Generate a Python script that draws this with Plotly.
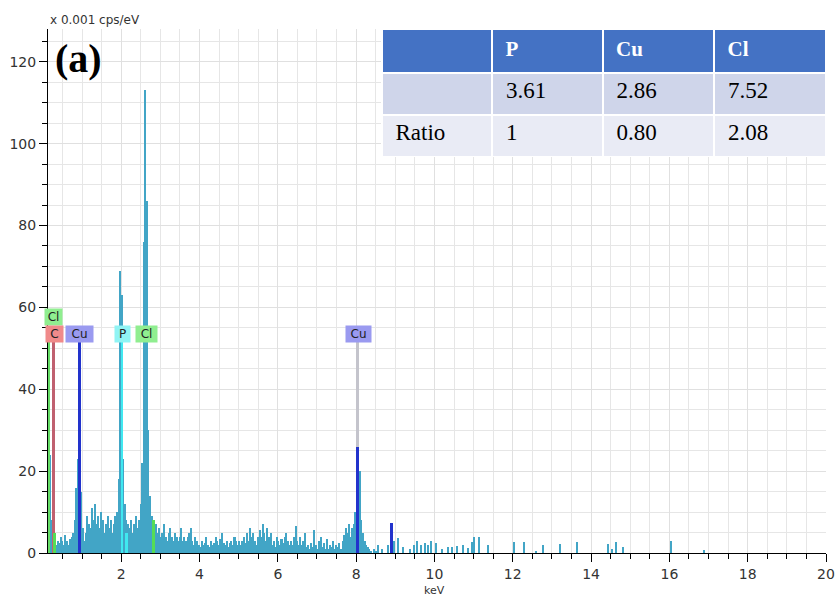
import plotly.graph_objects as go

# ---------------- data ----------------
# main spectrum: channel counts (x 0.001 cps/eV), channels start at 0.10 keV, 0.04 keV wide
spec_start = 0.10
spec_step = 0.04
spec_counts = [
    6, 14, 24, 8, 5, 3,
    2, 3, 2.5, 4, 3, 2, 4.5, 3, 2, 3.5, 4, 5,
    8, 16, 23, 42, 15, 6,
    3, 5, 9, 7, 6, 11, 8, 12, 7, 9, 6, 10, 8, 5, 7, 9, 6, 8, 5, 7,
    9, 10, 18, 69, 63, 23, 12, 8,
    7, 6, 8, 5, 7, 9, 6, 8,
    12, 22, 76, 113, 86, 30, 14, 9,
    8, 6, 7, 5, 6, 4, 5, 7, 4, 3, 5, 6, 4, 3, 5, 4, 3, 4, 6, 3, 4,
    3, 4, 5, 6, 3, 2, 4, 3, 2, 1.5, 3, 2, 2.5, 4, 2, 1.5, 3, 2, 2.5, 4, 3, 2, 3.5, 5, 2.5, 2, 3, 1.5, 2.5, 3, 2, 4, 3, 2,
    3, 2, 3, 4, 2.5, 5, 3, 6, 4, 5, 3, 2, 4, 5.5, 4, 7, 5, 3, 6, 4, 5, 2, 3, 1.5, 4, 3, 2, 3.5, 2.5, 4, 5, 3,
    2, 3, 2, 4, 6.5, 3, 2, 4, 2, 3, 5, 1.5, 2, 1, 2.5, 1.5, 5.5, 2, 1, 3, 4, 1.5, 2.5, 1, 3.5, 1, 2, 1.5, 3, 1, 2, 1.5, 2.5, 1, 3, 4.5,
    6, 5, 7, 4, 6, 7, 10, 11, 9, 20, 8, 5, 3, 2, 1.5, 1, 0.5, 0, 1, 0.5,
]
spec_keV = [round(spec_start + spec_step * i, 3) for i in range(len(spec_counts))]

# thin top of the Cl K peak
cl_top_keV = [2.60]
cl_top_counts = [107]

# sparse high-energy tail
tail_keV = [8.56, 8.66, 8.82, 8.96, 9.07, 9.20, 9.38, 9.47, 9.56, 9.66, 9.77, 9.85, 9.92, 10.05,
            10.20, 10.36, 10.45, 10.58, 10.73, 10.86, 10.97, 11.02, 11.14, 11.37,
            12.04, 12.29, 12.59, 12.78, 13.22, 13.64, 14.43, 14.54, 14.63, 14.81, 16.04, 16.90]
tail_counts = [2, 1, 2, 3, 3.6, 1.5, 1, 2, 3, 2, 2.5, 2, 3, 2.5,
               1, 1.5, 1.5, 1.6, 2, 1.3, 2.8, 3.8, 3.8, 2,
               2.8, 2.7, 0.5, 2.0, 2.3, 2.8, 2.3, 1.0, 2.8, 1.4, 3.0, 0.8]

# element marker lines
marker_elem = ["Cl", "C", "Cu", "P", "Cl", "Cu"]
marker_keV = [0.16, 0.277, 0.93, 2.013, 2.622, 8.04]
marker_top = [55, 51.6, 51.6, 51.6, 51.6, 51.6]
label_keV = [0.26, 0.30, 0.93, 2.03, 2.65, 8.06]
label_level = [57.6, 53.5, 53.5, 53.5, 53.5, 53.5]

# element-coloured peak channels
peak_elem = ["Cu", "Cu", "Cl", "P", "Cl"]
peak_keV = [8.04, 8.90, 0.30, 2.14, 2.82]
peak_counts = [26, 7.4, 5, 5, 8]

# table
table_header = ["", "P", "Cu", "Cl"]
table_row1 = ["", "3.61", "2.86", "7.52"]
table_row2 = ["Ratio", "1", "0.80", "2.08"]

# ---------------- styles ----------------
SPEC = "rgb(66,165,198)"
line_col = {"Cl": "#66dd66", "C": "#c06070", "Cu": "#2233cc", "P": "#40e8f0"}
peak_col = {"Cl": "#55dd55", "Cu": "#2233cc", "P": "#40e8f0"}
box_col = {"Cl": "#90ee90", "C": "#f08a8a", "Cu": "#9a9af0", "P": "#90f4f4"}
box_w = [17, 17, 27, 15, 21, 25]
FONT = "DejaVu Sans"

fig = go.Figure()

def mline(i, col, w):
    fig.add_trace(go.Bar(x=[marker_keV[i]], y=[marker_top[i]], width=w,
                         marker=dict(color=col, line=dict(width=0)), hoverinfo="skip"))

# Cl K marker sits under the spectrum
mline(4, line_col["Cl"], 0.06)

fig.add_trace(go.Bar(x=spec_keV, y=spec_counts, width=spec_step,
                     marker=dict(color=SPEC, line=dict(width=0))))
fig.add_trace(go.Bar(x=cl_top_keV, y=cl_top_counts, width=0.03,
                     marker=dict(color=SPEC, line=dict(width=0))))
fig.add_trace(go.Bar(x=tail_keV, y=tail_counts, width=0.035,
                     marker=dict(color=SPEC, line=dict(width=0))))

mline(0, line_col["Cl"], 0.06)
mline(1, line_col["C"], 0.05)
mline(2, line_col["Cu"], 0.07)
mline(3, line_col["P"], 0.06)
mline(5, "#c4c4cc", 0.09)

fig.add_trace(go.Bar(x=peak_keV, y=peak_counts, width=0.07,
                     marker=dict(color=[peak_col[e] for e in peak_elem], line=dict(width=0))))

for i, e in enumerate(marker_elem):
    fig.add_annotation(x=label_keV[i], y=label_level[i], xref="x", yref="y",
                       text=e, showarrow=False, bgcolor=box_col[e],
                       width=box_w[i], height=16, borderpad=0,
                       font=dict(family=FONT, size=12, color="#222"))

# table
fig.add_trace(go.Table(
    domain=dict(x=[0.429, 1.0], y=[0.754, 1.0]),
    columnwidth=[109, 109, 110, 110],
    header=dict(values=["<b> %s</b>" % h for h in table_header],
                fill_color="#4472c4", line=dict(color="white", width=2),
                font=dict(family="Liberation Serif", size=21, color="white"),
                align="left", height=44),
    cells=dict(values=[[" " + table_row1[i], " " + table_row2[i]] for i in range(4)],
               fill_color=[["#cfd5ea", "#e9ebf5"]] * 4,
               line=dict(color="white", width=2),
               font=dict(family="Liberation Serif", size=23, color="black"),
               align="left", height=42),
))

fig.add_annotation(xref="paper", yref="paper", x=0, y=1, xanchor="left", yanchor="bottom",
                   text="x 0.001 cps/eV", showarrow=False,
                   font=dict(family=FONT, size=12, color="#333"))
fig.add_annotation(xref="paper", yref="paper", x=0.006, y=0.943, xanchor="left", yanchor="middle",
                   text="<b>(a)</b>", showarrow=False,
                   font=dict(family="Liberation Serif", size=40, color="black"))
fig.add_annotation(xref="paper", yref="paper", x=0.497, y=-0.072, xanchor="center", yanchor="middle",
                   text="keV", showarrow=False,
                   font=dict(family=FONT, size=11, color="#333"))

axis_common = dict(ticks="outside", ticklen=8, tickcolor="black", showline=True,
                   linecolor="black", linewidth=1, gridcolor="#e0e0e0", zeroline=False,
                   automargin=False,
                   tickfont=dict(family=FONT, size=14, color="#333"))
fig.update_xaxes(range=[0.13, 20], tick0=0, dtick=2,
                 minor=dict(dtick=0.5, ticks="outside", ticklen=5, tickcolor="black",
                            showgrid=True, gridcolor="#e6e6e6"),
                 **axis_common)
fig.update_yaxes(range=[0, 128], tick0=0, dtick=20,
                 minor=dict(dtick=5, ticks="outside", ticklen=5, tickcolor="black",
                            showgrid=True, gridcolor="#e6e6e6"),
                 **axis_common)

fig.update_layout(width=838, height=599, margin=dict(l=48, r=12, t=29, b=46),
                  barmode="overlay", bargap=0, showlegend=False,
                  plot_bgcolor="white", paper_bgcolor="white")

# remove the default 8px page margin so the 838x599 figure fills the window exactly
fig.write_html("out.html", config={"displayModeBar": False},
               post_script="document.body.style.margin='0';document.body.style.overflow='hidden';")
